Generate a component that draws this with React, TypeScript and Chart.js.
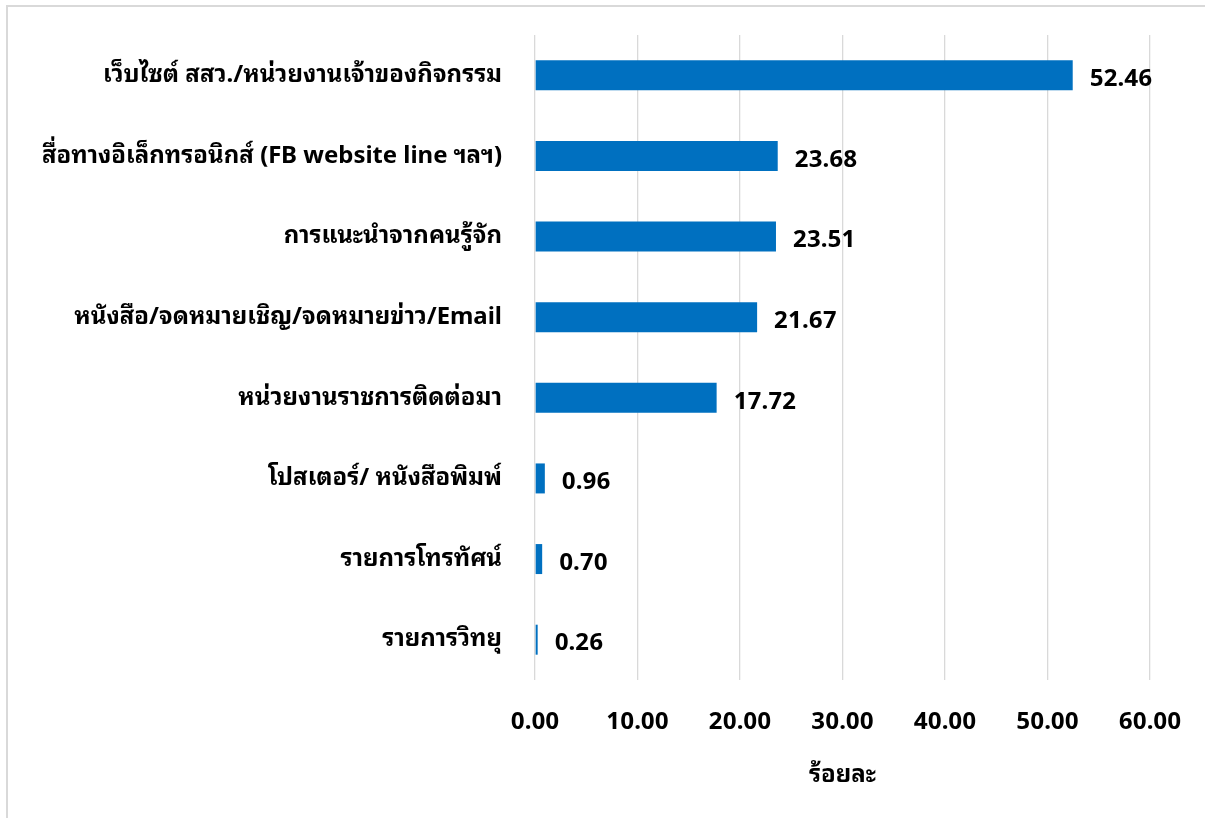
import React, { useEffect, useRef } from "react";
import { Chart, registerables } from "chart.js";

Chart.register(...registerables);

const categories: string[] = [
  "เว็บไซต์ สสว./หน่วยงานเจ้าของกิจกรรม",
  "สื่อทางอิเล็กทรอนิกส์ (FB website line ฯลฯ)",
  "การแนะนำจากคนรู้จัก",
  "หนังสือ/จดหมายเชิญ/จดหมายข่าว/Email",
  "หน่วยงานราชการติดต่อมา",
  "โปสเตอร์/ หนังสือพิมพ์",
  "รายการโทรทัศน์",
  "รายการวิทยุ",
];

const values: number[] = [52.46, 23.68, 23.51, 21.67, 17.72, 0.96, 0.7, 0.26];

const axisTitle = "ร้อยละ";
const xMin = 0;
const xMax = 60;
const xStep = 10;

const FONT_FAMILY = "Tahoma, 'Noto Sans Thai Looped', 'Noto Sans Thai', 'Noto Sans', 'DejaVu Sans', sans-serif";
const FONT_SIZE = 24;

const dataLabelPlugin = {
  id: "dataLabelPlugin",
  afterDatasetsDraw(chart: any) {
    const ctx = chart.ctx;
    const meta = chart.getDatasetMeta(0);
    ctx.save();
    ctx.font = `bold ${FONT_SIZE}px ${FONT_FAMILY}`;
    ctx.fillStyle = "#000000";
    ctx.textAlign = "left";
    ctx.textBaseline = "middle";
    meta.data.forEach((bar: any, i: number) => {
      const v = chart.data.datasets[0].data[i] as number;
      ctx.fillText(v.toFixed(2), bar.x + 17, bar.y + 4);
    });
    ctx.restore();
  },
};

export default function App() {
  const canvasRef = useRef<HTMLCanvasElement | null>(null);

  useEffect(() => {
    if (!canvasRef.current) return;
    const chart = new Chart(canvasRef.current, {
      type: "bar",
      data: {
        labels: categories,
        datasets: [
          {
            data: values,
            backgroundColor: "#0070C0",
            borderWidth: 0,
            barPercentage: 0.372,
            categoryPercentage: 1,
          },
        ],
      },
      options: {
        indexAxis: "y",
        animation: false,
        responsive: false,
        maintainAspectRatio: false,
        layout: { padding: { left: 0, right: 55, top: 35, bottom: 0 } },
        plugins: {
          legend: { display: false },
          tooltip: { enabled: false },
          title: { display: false },
        },
        scales: {
          x: {
            min: xMin,
            max: xMax,
            ticks: {
              stepSize: xStep,
              padding: 28,
              color: "#000000",
              font: { family: FONT_FAMILY, size: FONT_SIZE, weight: "bold" },
              callback: (v: any) => Number(v).toFixed(2),
            },
            grid: {
              color: "#D9D9D9",
              lineWidth: 1.3,
              drawTicks: false,
            },
            border: { display: false },
            title: {
              display: true,
              text: axisTitle,
              color: "#000000",
              font: { family: FONT_FAMILY, size: FONT_SIZE, weight: "bold" },
              padding: { top: 20, bottom: 28 },
            },
            afterFit: (scale: any) => {
              scale.height = 138;
              scale.paddingLeft = 0;
              scale.paddingRight = 0;
            },
          },
          y: {
            ticks: {
              padding: 33,
              color: "#000000",
              font: { family: FONT_FAMILY, size: FONT_SIZE, weight: "bold" },
            },
            grid: { display: false, drawTicks: false },
            border: { display: false },
            afterFit: (scale: any) => {
              scale.width = 535;
              scale.paddingTop = 0;
              scale.paddingBottom = 0;
            },
          },
        },
      },
      plugins: [dataLabelPlugin],
    });
    return () => chart.destroy();
  }, []);

  return (
    <div style={{ position: "absolute", left: 0, top: 0, width: 1205, height: 818, background: "#fff", overflow: "hidden" }}>
      <div
        style={{
          position: "absolute",
          left: 6,
          top: 5,
          width: 1300,
          height: 900,
          borderLeft: "2px solid #D9D9D9",
          borderTop: "2px solid #D9D9D9",
          boxSizing: "border-box",
        }}
      />
      <canvas ref={canvasRef} width={1205} height={818} style={{ position: "absolute", left: 0, top: 0, width: 1205, height: 818 }} />
    </div>
  );
}
